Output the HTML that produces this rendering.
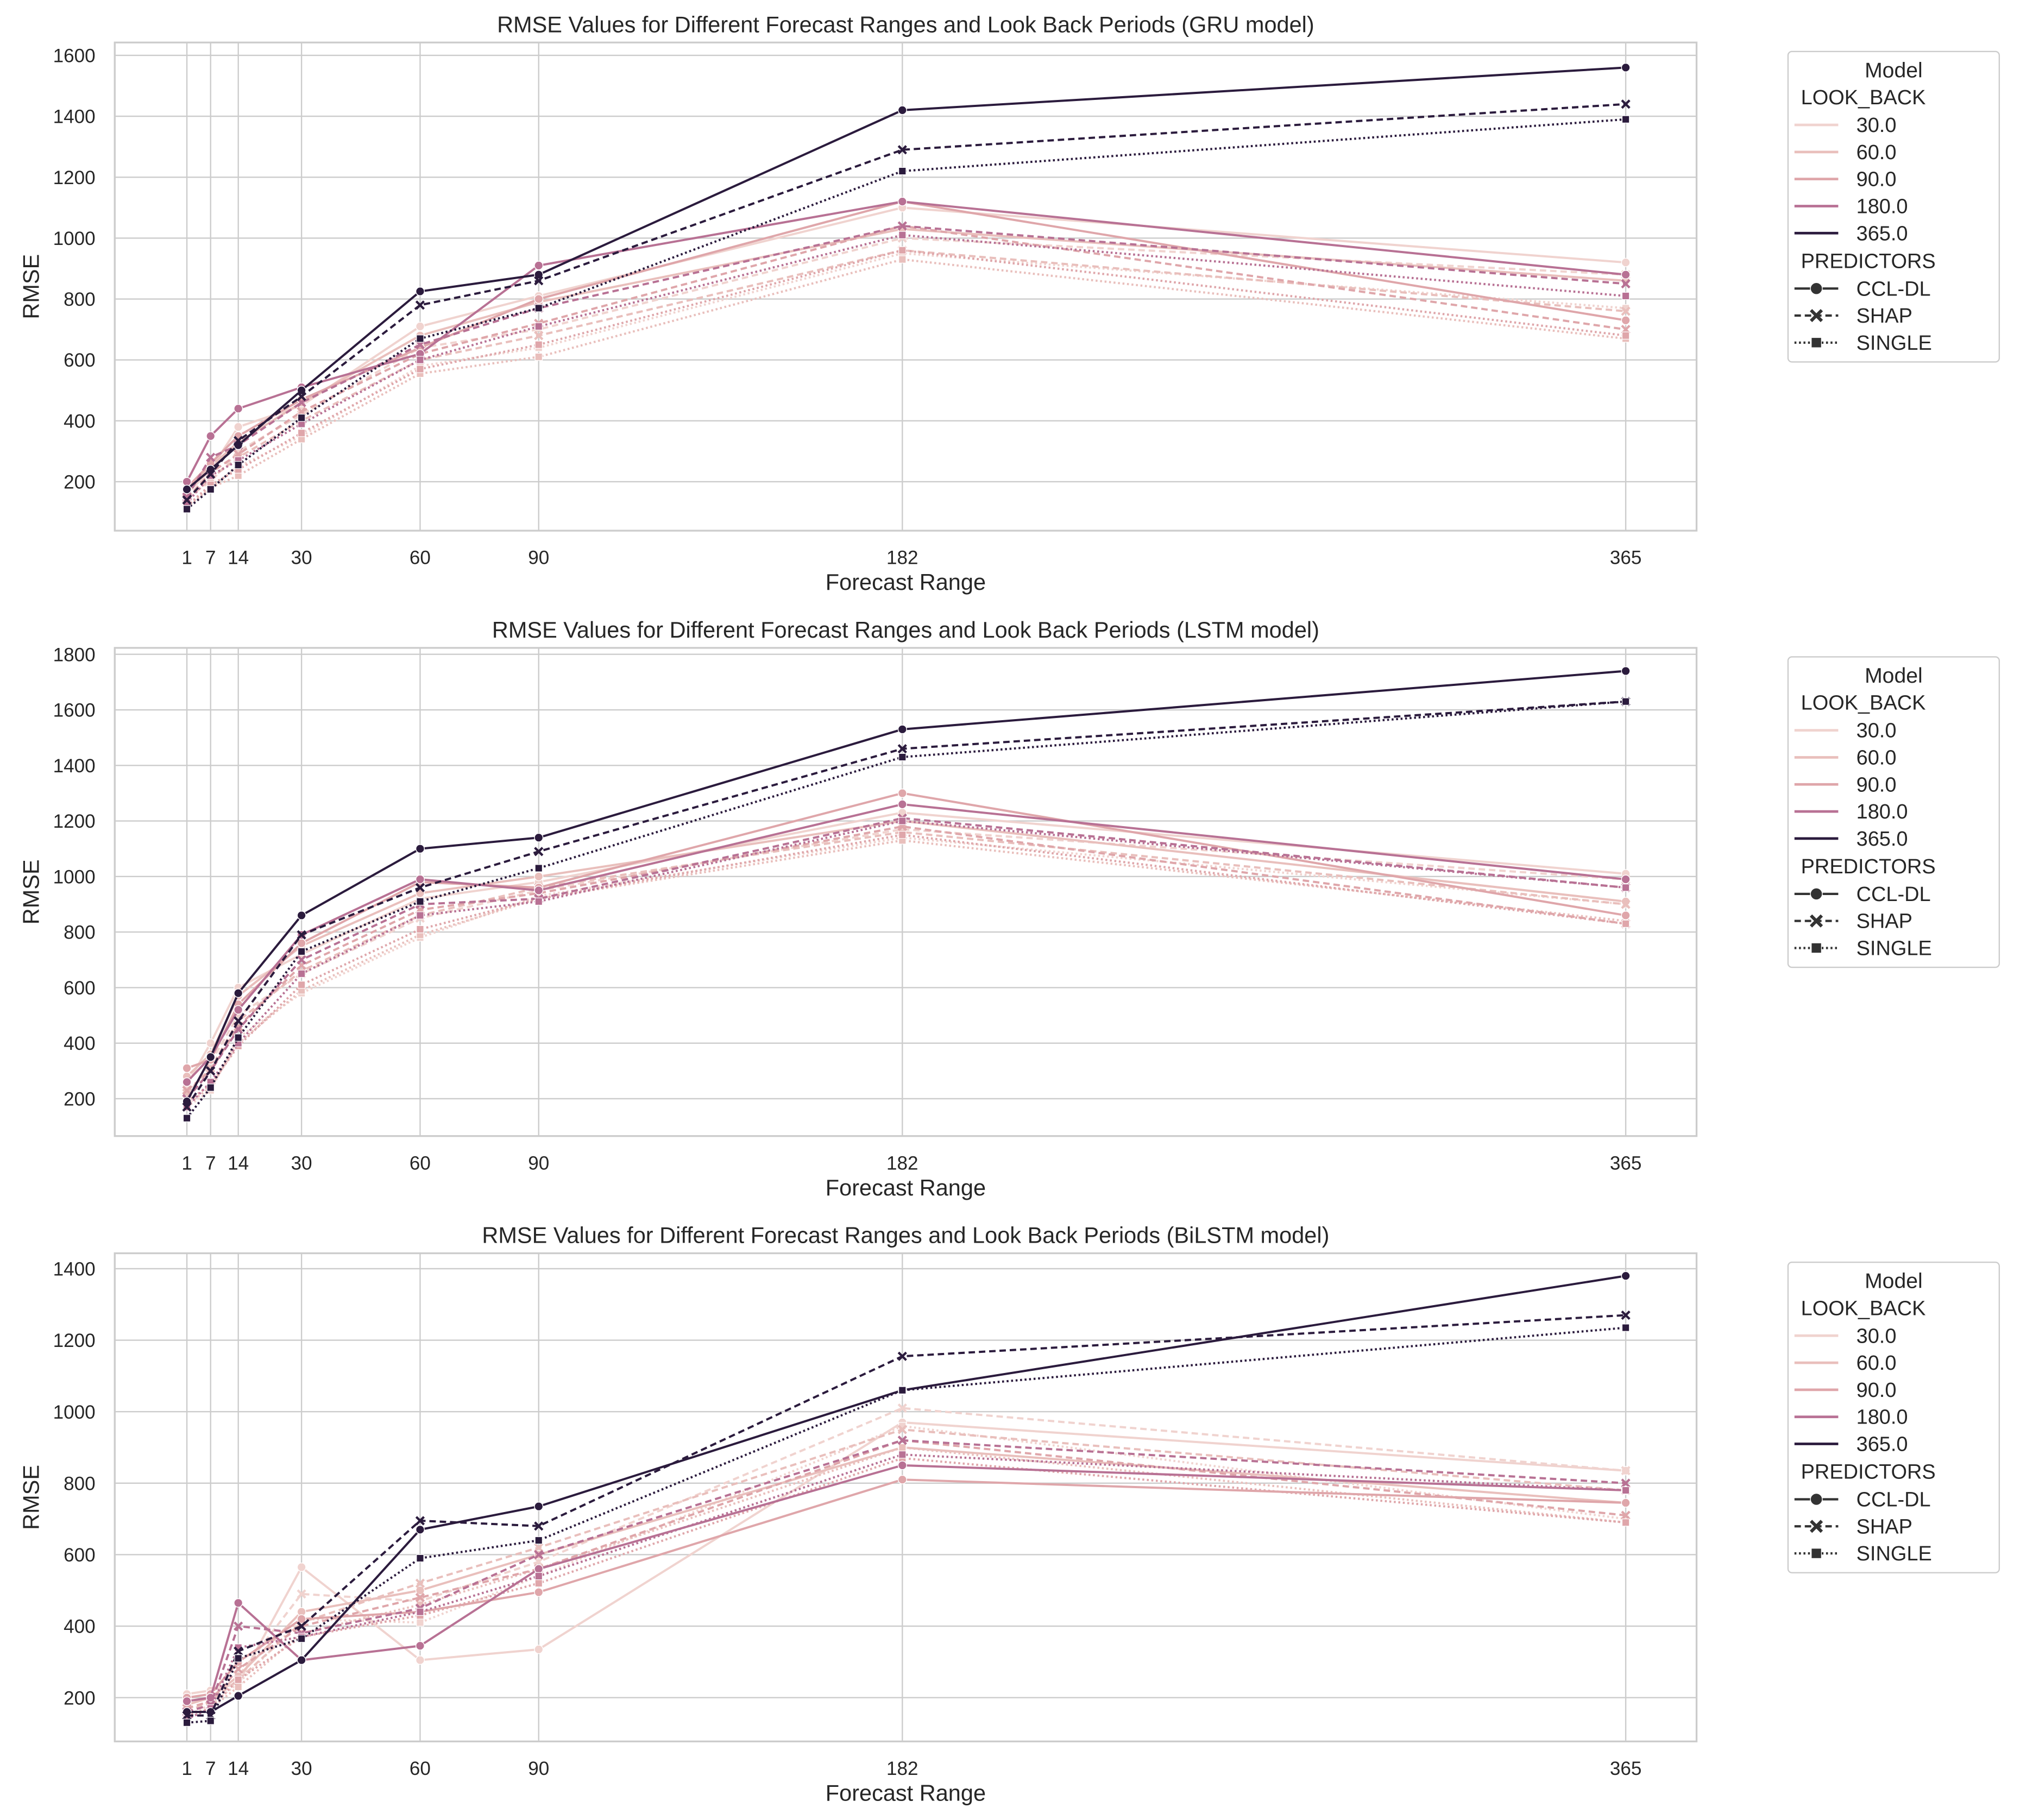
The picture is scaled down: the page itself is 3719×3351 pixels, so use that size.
<!DOCTYPE html>
<html><head><meta charset="utf-8">
<style>
html,body{margin:0;padding:0;background:#fff;}
svg{display:block;font-family:"Liberation Sans","DejaVu Sans",sans-serif;}
</style></head>
<body>
<svg id="chart" width="3719" height="3351" viewBox="0 0 1568 1413" xmlns="http://www.w3.org/2000/svg"></svg>
<script>
const xCategories = [1, 7, 14, 30, 60, 90, 182, 365];
const lookBacks = ["30.0", "60.0", "90.0", "180.0", "365.0"];
const predictors = ["CCL-DL", "SHAP", "SINGLE"];
const panelModels = ["GRU", "LSTM", "BiLSTM"];
const yTicksGRU = [200, 400, 600, 800, 1000, 1200, 1400, 1600];
const yTicksLSTM = [200, 400, 600, 800, 1000, 1200, 1400, 1600, 1800];
const yTicksBiLSTM = [200, 400, 600, 800, 1000, 1200, 1400];

// GRU values [lookback][predictor][x]
const gru30 = [[160,240,380,450,710,810,1100,920],[150,200,300,420,640,700,1000,880],[120,180,250,350,580,640,950,770]];
const gru60 = [[170,250,330,460,680,790,1030,860],[140,210,280,400,600,680,960,760],[115,180,220,340,555,610,930,670]];
const gru90 = [[180,260,350,470,640,800,1120,730],[145,230,290,430,620,720,1040,700],[120,190,240,360,570,650,960,680]];
const gru180 = [[200,350,440,510,620,910,1120,880],[150,280,320,460,650,770,1040,850],[130,220,270,390,600,710,1010,810]];
const gru365 = [[175,240,320,500,825,880,1420,1560],[140,225,335,480,780,860,1290,1440],[110,175,255,410,670,770,1220,1390]];
// LSTM values
const lstm30 = [[250,400,600,720,920,980,1230,1010],[210,330,500,650,850,950,1170,990],[170,230,420,580,780,930,1140,900]];
const lstm60 = [[280,360,570,750,940,1000,1200,910],[220,310,480,660,860,960,1160,900],[180,240,400,590,790,920,1130,840]];
const lstm90 = [[310,340,540,760,980,960,1300,860],[230,300,460,680,880,940,1180,830],[190,250,390,610,810,920,1150,830]];
const lstm180 = [[260,350,520,790,990,950,1260,990],[200,300,450,700,900,920,1210,960],[170,260,400,650,860,910,1200,960]];
const lstm365 = [[190,350,580,860,1100,1140,1530,1740],[170,300,480,790,960,1090,1460,1630],[130,240,420,730,910,1030,1430,1630]];
// BiLSTM values
const bil30 = [[210,220,240,565,305,335,970,835],[180,200,260,490,470,580,1010,835],[150,180,240,420,410,540,960,700]];
const bil60 = [[180,200,260,440,500,600,900,745],[160,190,250,410,520,620,950,780],[140,170,230,380,460,560,900,690]];
const bil90 = [[200,210,300,420,440,495,810,745],[170,190,280,400,480,560,920,710],[150,170,250,370,430,520,870,690]];
const bil180 = [[190,200,465,305,345,560,850,780],[160,180,400,380,450,600,920,800],[140,170,340,370,440,540,880,780]];
const bil365 = [[160,160,205,305,670,735,1060,1380],[150,150,330,400,695,680,1155,1270],[130,135,310,365,590,640,1060,1235]];

const panelData = [[gru30,gru60,gru90,gru180,gru365],[lstm30,lstm60,lstm90,lstm180,lstm365],[bil30,bil60,bil90,bil180,bil365]];
const panelTicks = [yTicksGRU, yTicksLSTM, yTicksBiLSTM];
const panelY = [[200,374,1600,43],[200,853,1800,508],[200,1318,1400,985]];
const colors = ["#f0d3cf","#e9bfbc","#dfa6aa","#b87194","#2b1b3d"];
const dashes = ["", "5,3", "1.5,2"];

const NS = "http://www.w3.org/2000/svg";
const svg = document.getElementById("chart");
function mk(tag, attrs, parent){const e=document.createElementNS(NS,tag);for(const k in attrs)e.setAttribute(k,attrs[k]);(parent||svg).appendChild(e);return e;}
const L=89,R=1317;
const xScale=v=>145+(v-1)*(1262-145)/364;

function marker(g,kind,x,y,c,s){
  s=s||1;
  let m;
  if(kind===0){m=mk("circle",{cx:x,cy:y,r:3.3*s,fill:c,stroke:"#fff","stroke-width":0.6},g);}
  else if(kind===1){const d=3*s;m=mk("path",{d:`M${x-d},${y-d}L${x+d},${y+d}M${x+d},${y-d}L${x-d},${y+d}`,stroke:c,"stroke-width":1.8*s,fill:"none"},g);}
  else {const d=2.8*s;m=mk("rect",{x:x-d,y:y-d,width:2*d,height:2*d,fill:c,stroke:"#fff","stroke-width":0.5},g);}
  
  
}

panelModels.forEach((model,p)=>{
  const [v0,p0,v1,p1]=panelY[p];
  const yScale=v=>p0+(v-v0)*(p1-p0)/(v1-v0);
  const top=33+p*470, bot=412+p*470;
  const g=mk("g",{});
  
  
  const grid=mk("g",{},g);
  
  
  xCategories.forEach(v=>{
    const x=xScale(v);
    mk("line",{x1:x,x2:x,y1:top,y2:bot,stroke:"#cccccc","stroke-width":1},grid);
    const t=mk("text",{x:x,y:bot+26,"font-size":14.8,"text-anchor":"middle",fill:"#262626"},g);
    t.textContent=v;
    
    
  });
  panelTicks[p].forEach(v=>{
    const y=yScale(v);
    mk("line",{x1:L,x2:R,y1:y,y2:y,stroke:"#cccccc","stroke-width":1},grid);
    const t=mk("text",{x:L-15,y:y+5.3,"font-size":14.8,"text-anchor":"end",fill:"#262626"},g);
    t.textContent=v;
    
    
  });
  const fr=mk("rect",{x:L,y:top,width:R-L,height:bot-top,fill:"none",stroke:"#cccccc","stroke-width":1.4},g);
  
  
  const tt=mk("text",{x:(L+R)/2,y:top-8,"font-size":17.5,"text-anchor":"middle",fill:"#262626"},g);
  tt.textContent=`RMSE Values for Different Forecast Ranges and Look Back Periods (${model} model)`;
  
  
  const xl=mk("text",{x:(L+R)/2,y:bot+46,"font-size":17.5,"text-anchor":"middle",fill:"#262626"},g);
  xl.textContent="Forecast Range";
  
  
  const yc=(top+bot)/2;
  const yl=mk("text",{x:30,y:yc,"font-size":17.5,"text-anchor":"middle",fill:"#262626",transform:`rotate(-90 30 ${yc})`},g);
  yl.textContent="RMSE";
  
  

  panelData[p].forEach((lb,li)=>{
    lb.forEach((vals,pi)=>{
      const sg=mk("g",{},g);
      
      
      const pts=vals.map((v,i)=>xScale(xCategories[i])+","+yScale(v)).join(" ");
      const attrs={points:pts,fill:"none",stroke:colors[li],"stroke-width":1.7};
      if(dashes[pi])attrs["stroke-dasharray"]=dashes[pi];
      const pl=mk("polyline",attrs,sg);
      
      
      vals.forEach((v,i)=>marker(sg,pi,xScale(xCategories[i]),yScale(v),colors[li]));
    });
  });

  const oy=p*470;
  const lg=mk("g",{},g);
  
  
  mk("rect",{x:1388,y:40+oy,width:164,height:241,rx:3,fill:"#fff",stroke:"#cccccc","stroke-width":1},lg);
  const addText=(txt,x,y,anchor,size,name)=>{const t=mk("text",{x:x,y:y,"font-size":size,"text-anchor":anchor,fill:"#262626"},lg);t.textContent=txt;};
  addText("Model",1470,60+oy,"middle",16.5,"legend-title");
  addText("LOOK_BACK",1398,81+oy,"start",16,"legend-section-lookback");
  lookBacks.forEach((lbl,i)=>{
    const y=97+oy+i*21;
    mk("line",{x1:1393,x2:1427,y1:y,y2:y,stroke:colors[i],"stroke-width":2},lg);
    addText(lbl,1441,y+5.5,"start",16,"legend-entry");
  });
  addText("PREDICTORS",1398,208+oy,"start",16,"legend-section-predictors");
  predictors.forEach((lbl,i)=>{
    const y=224+oy+i*21;
    const a={x1:1393,x2:1427,y1:y,y2:y,stroke:"#333","stroke-width":1.8};
    if(dashes[i])a["stroke-dasharray"]=dashes[i];
    mk("line",a,lg);
    marker(lg,i,1410,y,"#333",1.4);
    addText(lbl,1441,y+5.5,"start",16,"legend-entry");
  });
});
</script>
</body></html>
